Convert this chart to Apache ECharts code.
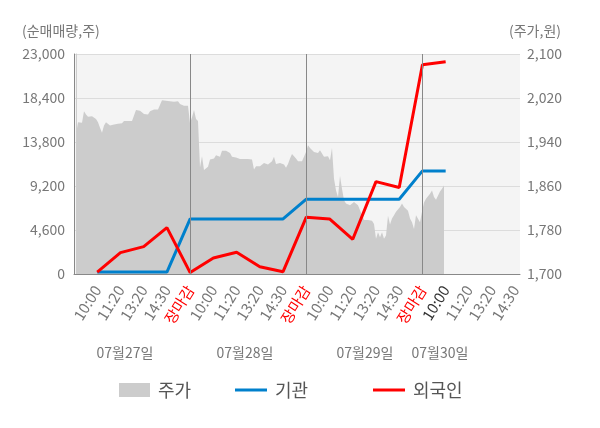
<!DOCTYPE html>
<html>
<head>
<meta charset="utf-8">
<script src="https://cdn.jsdelivr.net/npm/echarts@6/dist/echarts.min.js"></script>
<style>
html,body{margin:0;padding:0;background:#fff;}
#chart{width:600px;height:428px;}
</style>
</head>
<body>
<div id="chart"></div>
<script>
// x-axis tick labels (index 0 is the empty start of the axis)
const timeLabels = ['',
  '10:00','11:20','13:20','14:30','장마감',
  '10:00','11:20','13:20','14:30','장마감',
  '10:00','11:20','13:20','14:30','장마감',
  '10:00','11:20','13:20','14:30'];
const currentIndex = 16;
const dayLabels = ['07월27일','07월28일','07월29일','07월30일'];

// net buying volume (shares), one value per time label starting at index 1
const institution = [200,200,200,200,5760, 5760,5760,5760,5760,7820, 7820,7820,7820,7820,10780, 10780];
const foreign     = [200,2230,2860,4850,150, 1680,2270,760,240,5940, 5760,3630,9660,9040,21880, 22200];

// share price (won), intraday samples per day
const day1Price = [1954,1976,1976,1975,1996,1990,1986,1986,1987,1986,1982,1976,1966,1957,1970,1976,1973,1970,1968,1972,1971,1973,1974,1974,1978,1978,1978,1978,1978,1978,1998,1999,1997,1994,1991,1989,1990,1996,1999,1999,1999,1999,2000,2016,2013,2015,2015,2014,2011,2013,2016,2014,2009,2006,2006,2006,2006];
const day2Price = [1974,1985,1998,1982,1978,1894,1914,1889,1889,1895,1908,1908,1910,1916,1916,1913,1924,1924,1924,1924,1920,1913,1913,1912,1909,1909,1909,1909,1909,1909,1909,1908,1890,1896,1896,1896,1896,1902,1899,1899,1902,1905,1913,1900,1903,1902,1899,1899,1893,1900,1910,1918,1914,1910,1905,1905,1905,1905];
const day3Price = [1922,1934,1929,1929,1922,1925,1920,1925,1922,1913,1916,1914,1907,1929,1873,1852,1840,1878,1855,1834,1828,1831,1825,1825,1831,1830,1825,1816,1807,1798,1798,1798,1798,1797,1791,1764,1776,1767,1776,1764,1770,1806,1790,1801,1807,1813,1813,1822,1828,1822,1819,1815,1801,1794,1782,1807,1810,1794];
const day4Price = [1813,1830,1837,1840,1846,1852,1840,1835,1837,1850,1855,1861];

const FONT = 'Noto Sans CJK KR';
const priceAll = day1Price.concat(day2Price, day3Price, day4Price);
const priceData = priceAll.map((v, i) => [i, v]);
const instData = institution.map((v, i) => [i + 1, v]);
const forData = foreign.map((v, i) => [i + 1, v]);
const closeMarks = timeLabels.map((t, i) => t === '장마감' ? { xAxis: i } : null).filter(Boolean);

const chart = echarts.init(document.getElementById('chart'), null, { renderer: 'canvas' });
chart.setOption({
  animation: false,
  textStyle: { fontFamily: FONT },
  grid: { left: 74, right: 80, top: 54, bottom: 154, show: true, backgroundColor: '#f4f4f4', borderWidth: 0 },
  legend: [
    { data: ['주가'], left: 114, top: 376, icon: 'rect', itemWidth: 31, itemHeight: 14,
      textStyle: { fontSize: 18, color: '#555', fontFamily: FONT, padding: [0, 0, 0, 3] } },
    { data: ['기관'], left: 230, top: 376, icon: 'rect', itemWidth: 32, itemHeight: 3,
      textStyle: { fontSize: 18, color: '#555', fontFamily: FONT, padding: [0, 0, 0, 3] } },
    { data: ['외국인'], left: 368, top: 376, icon: 'rect', itemWidth: 32, itemHeight: 3,
      textStyle: { fontSize: 18, color: '#555', fontFamily: FONT, padding: [0, 0, 0, 3] } }
  ],
  xAxis: [
    {
      type: 'value', min: 0, max: 19.2, interval: 1,
      axisLine: { show: true, lineStyle: { color: '#888', width: 1 } },
      axisTick: { show: false },
      splitLine: { show: false },
      axisLabel: {
        rotate: 58, margin: 13, fontSize: 15, color: '#777', fontFamily: FONT,
        showMaxLabel: true,
        formatter: function (v) {
          const i = Math.round(v);
          if (Math.abs(v - i) > 1e-6) return '';
          const t = timeLabels[i] || '';
          if (!t) return '';
          if (t === '장마감') return '{r|' + t + '}';
          if (i === currentIndex) return '{k|' + t + '}';
          return t;
        },
        rich: {
          r: { color: '#ff0000', fontSize: 15, fontFamily: FONT },
          k: { color: '#333', fontSize: 15, fontFamily: FONT }
        }
      }
    },
    { type: 'value', min: -1, max: 222, show: false }
  ],
  yAxis: [
    {
      type: 'value', min: 0, max: 23000, interval: 4600,
      axisLine: { show: true, lineStyle: { color: '#888' } },
      axisTick: { show: false },
      splitLine: { show: true, lineStyle: { color: '#dcdcdc', width: 1 } },
      axisLabel: { fontSize: 14, color: '#777', margin: 9, fontFamily: FONT }
    },
    {
      type: 'value', min: 1700, max: 2100, alignTicks: true, position: 'right',
      axisLine: { show: true, lineStyle: { color: '#ccc' } },
      axisTick: { show: false },
      splitLine: { show: false },
      axisLabel: { fontSize: 14, color: '#777', margin: 7, fontFamily: FONT }
    }
  ],
  graphic: [
    { type: 'text', left: 22, top: 24, style: { text: '(순매매량,주)', fontSize: 14, fill: '#777', fontFamily: FONT } },
    { type: 'text', right: 39, top: 24, style: { text: '(주가,원)', fontSize: 14, fill: '#777', fontFamily: FONT } },
    { type: 'text', x: 125, y: 353, style: { text: dayLabels[0], fontSize: 14, fill: '#777', fontFamily: FONT, textAlign: 'center', textVerticalAlign: 'middle' } },
    { type: 'text', x: 245, y: 353, style: { text: dayLabels[1], fontSize: 14, fill: '#777', fontFamily: FONT, textAlign: 'center', textVerticalAlign: 'middle' } },
    { type: 'text', x: 365, y: 353, style: { text: dayLabels[2], fontSize: 14, fill: '#777', fontFamily: FONT, textAlign: 'center', textVerticalAlign: 'middle' } },
    { type: 'text', x: 440, y: 353, style: { text: dayLabels[3], fontSize: 14, fill: '#777', fontFamily: FONT, textAlign: 'center', textVerticalAlign: 'middle' } }
  ],
  series: [
    {
      name: '주가', type: 'line', xAxisIndex: 1, yAxisIndex: 1,
      data: priceData, symbol: 'none', z: 1,
      lineStyle: { width: 0, color: '#cccccc' },
      itemStyle: { color: '#cccccc' },
      areaStyle: { color: '#cccccc', opacity: 1 }
    },
    {
      name: '기관', type: 'line', xAxisIndex: 0, yAxisIndex: 0,
      data: instData, symbol: 'none', z: 3,
      lineStyle: { width: 3, color: '#0080cc' },
      itemStyle: { color: '#0080cc' },
      markLine: {
        silent: true, symbol: ['none', 'none'], label: { show: false },
        lineStyle: { color: '#888', width: 1, type: 'solid' },
        data: closeMarks
      }
    },
    {
      name: '외국인', type: 'line', xAxisIndex: 0, yAxisIndex: 0,
      data: forData, symbol: 'none', z: 4,
      lineStyle: { width: 3, color: '#ff0000' },
      itemStyle: { color: '#ff0000' }
    }
  ]
});
</script>
</body>
</html>
